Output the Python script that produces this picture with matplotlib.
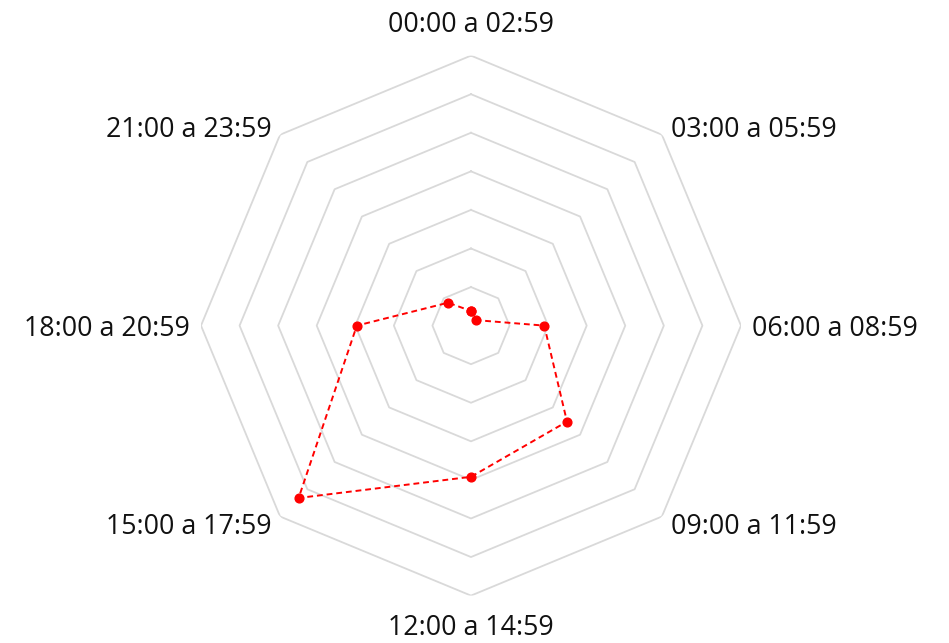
import numpy as np
import matplotlib.pyplot as plt

# data ---------------------------------------------------------------
labels = ["00:00 a 02:59", "03:00 a 05:59", "06:00 a 08:59", "09:00 a 11:59",
          "12:00 a 14:59", "15:00 a 17:59", "18:00 a 20:59", "21:00 a 23:59"]
values = [1.9, 1.0, 9.5, 17.6, 19.6, 31.6, 14.8, 4.2]
levels = [5, 10, 15, 20, 25, 30, 35]

# label offsets in pixels (dx, dy) and alignment
offsets = [(0, 23.6, "center"), (8.8, -2, "left"), (10.6, -10.7, "left"),
           (8.8, -17.8, "left"), (0, -39.5, "center"), (-8.4, -17.2, "right"),
           (-11, -10.4, "right"), (-8.4, -2, "right")]

plt.rcParams['font.family'] = ['Open Sans', 'DejaVu Sans']

n = len(labels)
theta = np.arange(n) * 2 * np.pi / n
rmax = levels[-1]

fig = plt.figure(figsize=(9.49, 6.43), dpi=100)
ax = fig.add_axes([0.2118, 0.0737, 0.569, 0.8398], projection="polar")
ax.set_theta_offset(np.pi / 2)
ax.set_theta_direction(-1)
ax.set_ylim(0, rmax)
ax.grid(False)
ax.spines["polar"].set_visible(False)
ax.set_xticks([])
ax.set_yticks([])
ax.patch.set_alpha(0)

# octagonal grid
t_closed = np.append(theta, theta[0])
for lv in levels:
    ax.plot(t_closed, [lv] * (n + 1), color="#d9d9d9", lw=1.3, zorder=1)

# series
v_closed = values + values[:1]
ax.plot(t_closed, v_closed, color="red", lw=1.4, linestyle=(0, (3, 2)),
        marker="o", markersize=6.3, zorder=3, clip_on=False)

# point labels
for t, lab, (dx, dy, ha) in zip(theta, labels, offsets):
    ax.annotate(lab, xy=(t, rmax), xytext=(dx, dy), textcoords="offset pixels",
                ha=ha, va="baseline", fontsize=19.3, color="#111111",
                annotation_clip=False)

fig.savefig("out.png", dpi=100)
